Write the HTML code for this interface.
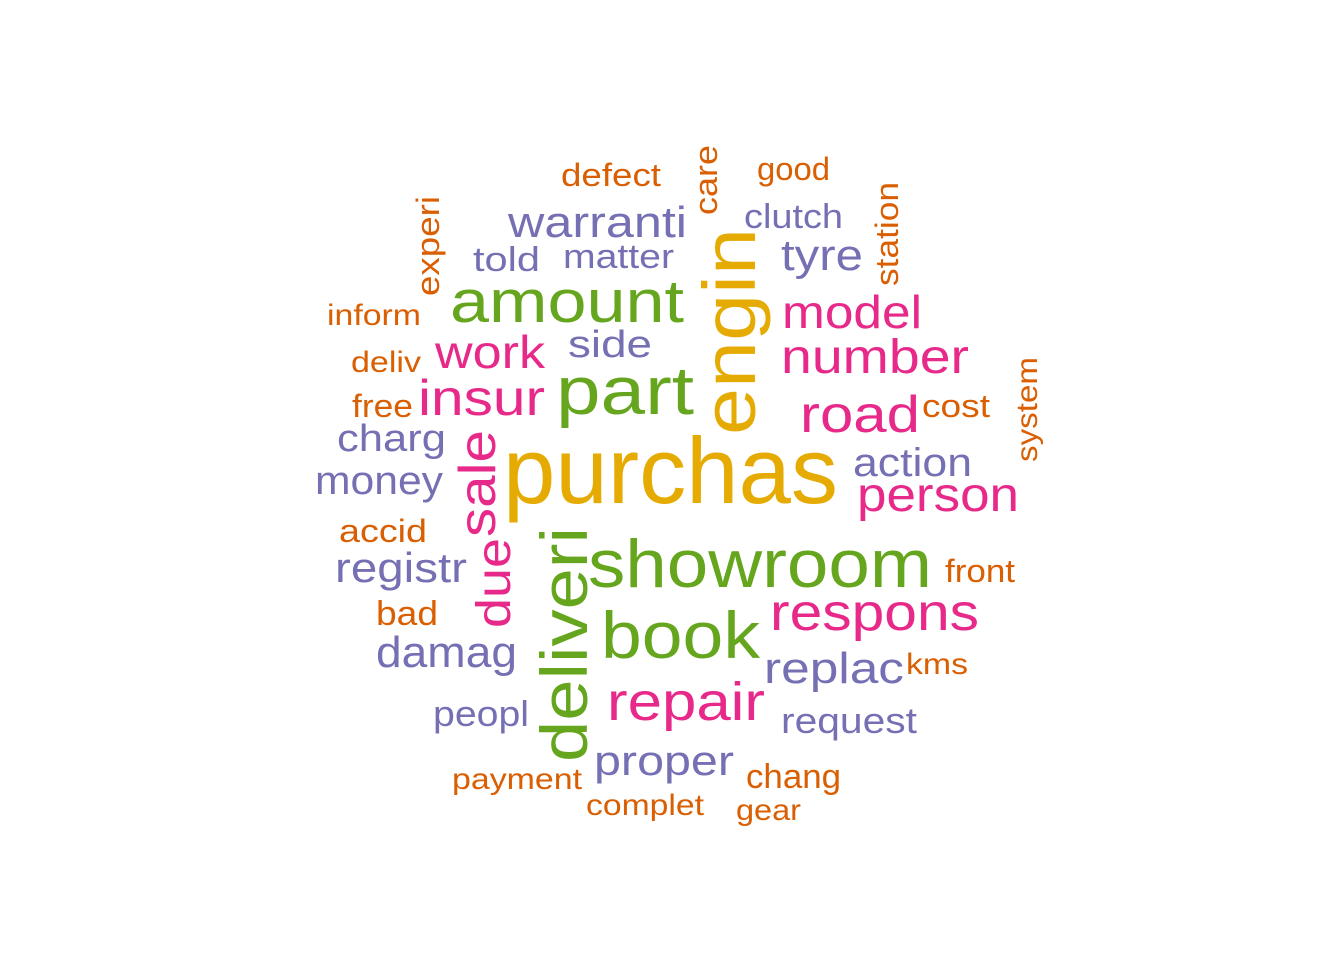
<!DOCTYPE html>
<html><head><meta charset="utf-8"><style>
html,body{margin:0;padding:0;background:#fff;}
svg{display:block;}
text{font-family:"Liberation Sans",Arial,sans-serif;}
</style></head><body>
<svg id="cloud" width="1344" height="960" xmlns="http://www.w3.org/2000/svg"></svg>
<script>
const words = ["defect","care","good","experi","warranti","clutch","station","told","matter","tyre","engin","amount","inform","model","side","work","deliv","number","insur","part","free","road","cost","system","charg","sale","action","money","person","accid","due","deliveri","purchas","showroom","registr","front","respons","bad","book","damag","replac","kms","repair","peopl","request","proper","payment","chang","complet","gear"];
const colorGroup = ["o","o","o","o","p","p","o","p","p","p","g","gr","o","k","p","k","o","k","k","gr","o","k","o","o","p","k","p","p","k","o","k","gr","g","gr","p","o","k","o","gr","p","p","o","k","p","p","p","o","o","o","o"];
const posX = [561,717,757,439,508,744,898,473,563,781,755,450,327,782,568,435,351,781,418,556,352,800,922,1037,337,495,853,315,857,339,510,587,503,588,335,945,770,376,601,376,764,906,607,433,781,594,452,746,586,736];
const posY = [186,215,180,296,237,228,286,271,268,270,435,322,325,328,357,368,372,373,415,414,417,432,417,462,451,537,476,494,511,542,628,762,503,587,582,582,630,625,658,667,683,674,720,726,733,775,789,788,815,820];
const sizes = [32,32,32,32,44,34,32,34,34,44,74,60,30,46,38,46,30,48,50,68,32,52,32,30,38,52,40,40,48,32,48,66,94,68,42,32,52,34,66,44,44,30,54,36,36,42,30,34,30,30];
const lens = [100,70,73,100,179,99,104,67,111,82,207,234,94,140,84,110,70,188,127,138,61,120,68,105,109,107,119,128,162,88,90,235,335,344,132,70,209,62,159,141,140,62,158,96,136,140,130,95,118,65];
const rotated = [0,1,0,1,0,0,1,0,0,0,1,0,0,0,0,0,0,0,0,0,0,0,0,1,0,1,0,0,0,0,1,1,0,0,0,0,0,0,0,0,0,0,0,0,0,0,0,0,0,0];
const palette = {o:"#D95F02",p:"#7570B3",k:"#E7298A",gr:"#66A61E",g:"#E6AB02"};
const svg = document.getElementById('cloud');
const NS = "http://www.w3.org/2000/svg";
words.forEach((w,i)=>{
  const t = document.createElementNS(NS,'text');
  
  
  t.setAttribute('font-size', sizes[i]);
  t.setAttribute('fill', palette[colorGroup[i]]);
  t.setAttribute('textLength', lens[i]);
  t.setAttribute('lengthAdjust', 'spacingAndGlyphs');
  if (rotated[i]) {
    t.setAttribute('transform', 'translate(' + posX[i] + ',' + posY[i] + ') rotate(-90)');
  } else {
    t.setAttribute('x', posX[i]);
    t.setAttribute('y', posY[i]);
  }
  t.textContent = w;
  svg.appendChild(t);
});
</script>
</body></html>
